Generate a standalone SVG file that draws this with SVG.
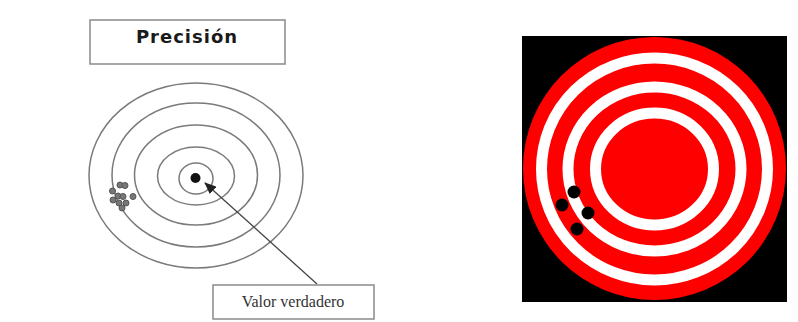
<svg xmlns="http://www.w3.org/2000/svg" width="798" height="322" viewBox="0 0 798 322">
<style>
.ring{fill:none;stroke:#7a7a7a;stroke-width:1.5}
.shot{fill:#777;stroke:#555;stroke-width:1}
.box{fill:#fff;stroke:#8a8a8a;stroke-width:1.5}
.wr{fill:none;stroke:#fff;stroke-width:11}
.hole{fill:#000}
</style>
<defs>
<marker id="ah" markerWidth="12" markerHeight="10" refX="11" refY="5" orient="auto" markerUnits="userSpaceOnUse">
<path d="M0,0 L12,5 L0,10 z" fill="#222"/>
</marker>
</defs>
<rect width="798" height="322" fill="#fff"/>
<g id="title">
<rect class="box" x="90" y="20" width="195" height="44"/>
<text x="187" y="43" text-anchor="middle" font-family="DejaVu Sans, sans-serif" font-weight="bold" font-size="18" letter-spacing="1" fill="#1a1a1a">Precisión</text>
</g>
<g id="target-left">
<ellipse class="ring" cx="196" cy="175.5" rx="107" ry="92.5"/>
<ellipse class="ring" cx="196" cy="175" rx="84" ry="72"/>
<ellipse class="ring" cx="196" cy="175" rx="61.5" ry="50"/>
<ellipse class="ring" cx="196" cy="176" rx="38.5" ry="29"/>
<ellipse class="ring" cx="196" cy="178.5" rx="17" ry="15.5"/>
<circle cx="195.5" cy="178" r="5" fill="#111"/>
</g>
<g id="shots-left">
<circle class="shot" cx="120" cy="185" r="3"/>
<circle class="shot" cx="125" cy="185.5" r="3"/>
<circle class="shot" cx="112.5" cy="191" r="3"/>
<circle class="shot" cx="118" cy="196" r="3"/>
<circle class="shot" cx="123" cy="196.5" r="3"/>
<circle class="shot" cx="133" cy="196.5" r="3"/>
<circle class="shot" cx="113" cy="200" r="3"/>
<circle class="shot" cx="119" cy="203" r="3"/>
<circle class="shot" cx="126" cy="203" r="3"/>
<circle class="shot" cx="122" cy="208" r="3"/>
</g>
<g id="connectors">
<line x1="317" y1="284" x2="205" y2="183" stroke="#444" stroke-width="1.3" marker-end="url(#ah)"/>
</g>
<g id="label-valor">
<rect class="box" x="213" y="285" width="161" height="34"/>
<text x="293" y="307" text-anchor="middle" font-family="Liberation Serif, serif" font-size="16" fill="#333">Valor verdadero</text>
</g>
<g id="target-right">
<rect x="522" y="36" width="265" height="266" fill="#000"/>
<circle cx="654.5" cy="168.5" r="131.5" fill="#ff0000"/>
<ellipse class="wr" cx="654.5" cy="169" rx="113" ry="111"/>
<ellipse class="wr" cx="654.5" cy="169" rx="86.5" ry="82"/>
<ellipse class="wr" cx="654.5" cy="169" rx="59" ry="56"/>
<circle class="hole" cx="574" cy="192" r="6.5"/>
<circle class="hole" cx="562" cy="205" r="6.5"/>
<circle class="hole" cx="588" cy="213" r="6.5"/>
<circle class="hole" cx="577" cy="229" r="6.5"/>
</g>
</svg>
